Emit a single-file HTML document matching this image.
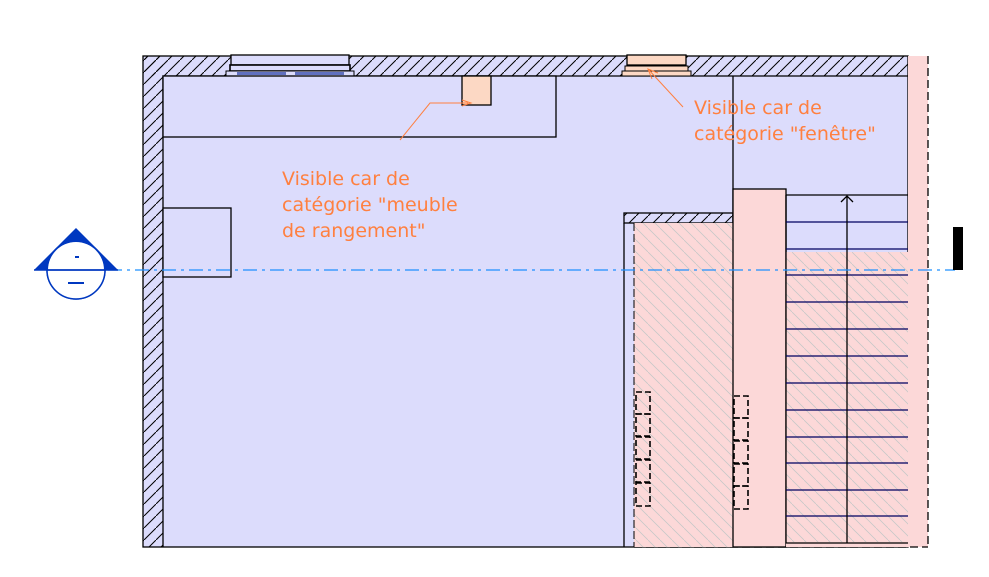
<!DOCTYPE html>
<html><head><style>body{margin:0;background:#fff}svg{display:block}</style></head><body>
<svg width="989" height="577" viewBox="0 0 989 577" xmlns="http://www.w3.org/2000/svg" font-family="DejaVu Sans, Liberation Sans, sans-serif">
<defs>
<pattern id="h" width="12" height="12" patternUnits="userSpaceOnUse"><path d="M0 12 L12 0" stroke="#000" stroke-width="1"/></pattern>
<pattern id="g" width="12" height="12" patternUnits="userSpaceOnUse"><path d="M0 0 L12 12" stroke="#c8c8c8" stroke-width="0.8"/></pattern>
</defs>
<rect x="143" y="56" width="765" height="491" fill="#dcdcfc"/>
<rect x="143" y="56" width="765" height="20" fill="url(#h)"/>
<rect x="143" y="56" width="20" height="491" fill="url(#h)"/>
<rect x="143" y="56" width="765" height="491" fill="none" stroke="#000" stroke-width="1.3"/>
<path d="M163 547 V76 H908" fill="none" stroke="#000" stroke-width="1.3"/>
<rect x="908" y="56" width="20" height="491" fill="#fcd8d8"/>
<path d="M928 56 V547 M634 547 H928" stroke="#000" stroke-width="1.3" stroke-dasharray="8,4" fill="none"/>
<rect x="231" y="55" width="118" height="10" fill="#dcdcfc" stroke="#000" stroke-width="1.3"/>
<rect x="230" y="65" width="120" height="6" fill="#dcdcfc" stroke="#000" stroke-width="1.6"/>
<rect x="226" y="71" width="128" height="5" fill="#dcdcfc" stroke="#000"/>
<rect x="237" y="72" width="49" height="3" fill="#6070c0"/><rect x="295" y="72" width="49" height="3" fill="#6070c0"/>
<rect x="627" y="55" width="59" height="10" fill="#fcd8c4" stroke="#000" stroke-width="1.3"/>
<rect x="625" y="66" width="63" height="5" fill="#fcd8c4" stroke="#000"/>
<rect x="622" y="71" width="69" height="5" fill="#fcd8c4" stroke="#000"/>
<rect x="163" y="76" width="393" height="61" fill="#dcdcfc" stroke="#000" stroke-width="1.3"/>
<rect x="462" y="76" width="29" height="29" fill="#fcd8c4" stroke="#000" stroke-width="1.3"/>
<rect x="163" y="208" width="68" height="69" fill="#dcdcfc" stroke="#000" stroke-width="1.3"/>
<line x1="733" y1="76" x2="733" y2="547" stroke="#000" stroke-width="1.3"/>
<rect x="624" y="213" width="109" height="10" fill="url(#h)" stroke="#000" stroke-width="1.3"/>
<rect x="634" y="223" width="99" height="324" fill="#fcd8d8"/>
<rect x="634" y="223" width="99" height="324" fill="url(#g)"/>
<line x1="624" y1="223" x2="624" y2="547" stroke="#000" stroke-width="1.3"/>
<line x1="634" y1="223" x2="634" y2="547" stroke="#000" stroke-dasharray="8,3"/>
<rect x="733" y="189" width="53" height="358" fill="#fcd8d8" stroke="#000" stroke-width="1.3"/>
<rect x="786" y="252" width="122" height="295" fill="#fcd8d8"/>
<rect x="786" y="252" width="122" height="290" fill="url(#g)"/>
<path d="M786 195 H908 M786 195 V543 H908" stroke="#000" stroke-width="1.3" fill="none"/>
<g stroke="#000060" stroke-width="1.3">
<line x1="786" y1="222" x2="908" y2="222"/><line x1="786" y1="249" x2="908" y2="249"/><line x1="786" y1="275" x2="908" y2="275"/><line x1="786" y1="302" x2="908" y2="302"/><line x1="786" y1="329" x2="908" y2="329"/><line x1="786" y1="356" x2="908" y2="356"/><line x1="786" y1="383" x2="908" y2="383"/><line x1="786" y1="410" x2="908" y2="410"/><line x1="786" y1="437" x2="908" y2="437"/><line x1="786" y1="463" x2="908" y2="463"/><line x1="786" y1="490" x2="908" y2="490"/><line x1="786" y1="516" x2="908" y2="516"/>
</g>
<path d="M847 543 V196 M841 202 L847 196 L853 202" stroke="#000" stroke-width="1.3" fill="none"/>
<g fill="none" stroke="#000" stroke-width="1.6" stroke-dasharray="6,3">
<rect x="636" y="392" width="14" height="22"/><rect x="636" y="414" width="14" height="22"/><rect x="636" y="437" width="14" height="22"/><rect x="636" y="460" width="14" height="22"/><rect x="636" y="483" width="14" height="23"/>
<rect x="734" y="396" width="14" height="22"/><rect x="734" y="418" width="14" height="22"/><rect x="734" y="441" width="14" height="22"/><rect x="734" y="464" width="14" height="22"/><rect x="734" y="486" width="14" height="23"/>
</g>
<line x1="108" y1="270" x2="955" y2="270" stroke="#1e90ff" stroke-width="1.3" stroke-dasharray="14,5,3,5"/>
<rect x="953" y="227" width="10" height="43" fill="#000"/>
<path d="M34 270 L76 228 L118 270 Z" fill="#0038c0"/>
<path d="M48 270 A28 28 0 0 1 104 270 Z" fill="#fff"/>
<circle cx="76" cy="270" r="29" fill="none" stroke="#0038c0" stroke-width="1.5"/>
<path d="M47 270 A29 29 0 0 0 105 270 Z" fill="#fff" stroke="#0038c0" stroke-width="1.5"/>
<line x1="34" y1="270" x2="118" y2="270" stroke="#0038c0" stroke-width="1.5"/>
<rect x="75" y="256" width="4" height="2" fill="#0038c0"/>
<rect x="68" y="282" width="16" height="2" fill="#0038c0" />
<path d="M400 140 L430 103 L468 103" stroke="#ff8040" fill="none"/>
<path d="M462 100 L471 103 L462 106" stroke="#ff8040" fill="none"/>
<path d="M683 107 L648 69 M652 79 L648 69 L658 73" stroke="#ff8040" fill="none"/>
<g fill="#ff8040" font-size="19">
<text x="282" y="185">Visible car de</text>
<text x="282" y="211">catégorie "meuble</text>
<text x="282" y="237">de rangement"</text>
<text x="694" y="114">Visible car de</text>
<text x="694" y="140">catégorie "fenêtre"</text>
</g>
</svg>
</body></html>
